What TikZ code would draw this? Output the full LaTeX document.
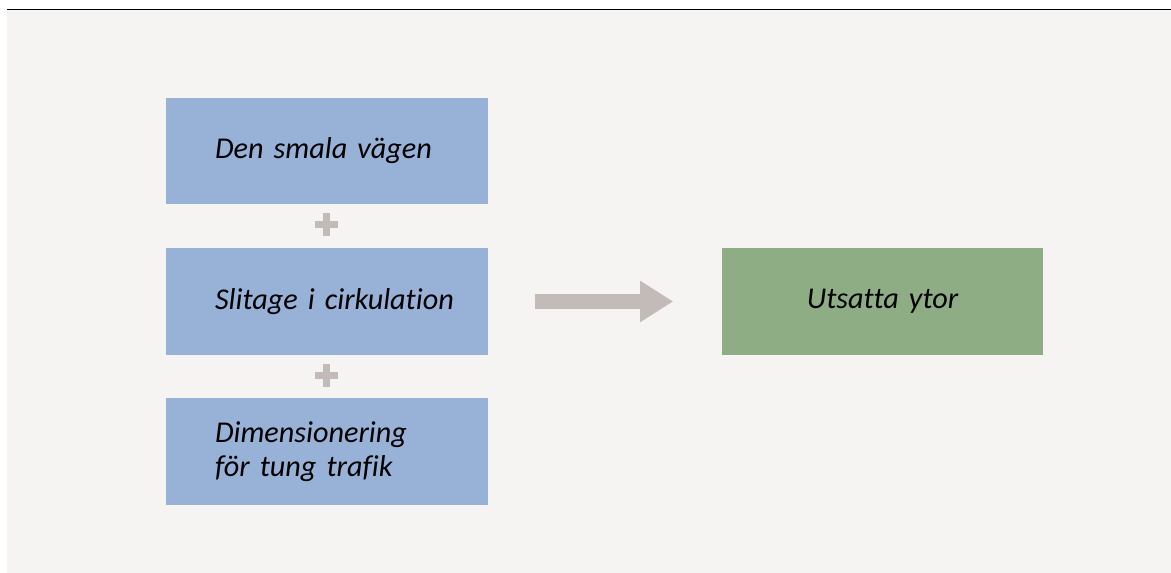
\documentclass[tikz,border=0pt]{standalone}
\usepackage{fontspec}
\setmainfont[Ligatures=NoCommon, WordSpace=0.65]{Carlito}
\definecolor{boxblue}{RGB}{152,177,215}
\definecolor{boxgreen}{RGB}{143,173,133}
\definecolor{signgray}{RGB}{194,187,183}
\definecolor{bggray}{RGB}{245,244,242}
\usetikzlibrary{arrows.meta,positioning}

\begin{document}
\begin{tikzpicture}[
    x=0.02cm, y=-0.02cm,
    cause/.style={rectangle, fill=boxblue, minimum width=6.44cm, minimum height=2.14cm,
                  text width=4.48cm, inner xsep=0.98cm, align=left,
                  execute at begin node={\hyphenpenalty=10000\hfuzz=3cm},
                  font=\itshape\fontsize{17.2}{19.3}\selectfont},
    effect/.style={cause, fill=boxgreen, align=center},
    plus/.style={rectangle, minimum size=0.46cm, inner sep=0pt,
                 path picture={
                   \fill[signgray] ([xshift=-0.07cm]path picture bounding box.north)
                     rectangle ([xshift=0.07cm]path picture bounding box.south);
                   \fill[signgray] ([yshift=-0.07cm]path picture bounding box.west)
                     rectangle ([yshift=0.07cm]path picture bounding box.east);}},
    >=Triangle
  ]
    % Page and rule
    \useasboundingbox[fill=white] (0,0) rectangle (1171,573);
    \fill[bggray] (7,10) rectangle (1171,573);
    \draw[black, line width=0.03cm] (7,9.5) -- (1171,9.5);

    % Causes
    \node[cause] (b1) at (327,151) {Den~smala~vägen};
    \node[cause] (b2) at (327,301.5) {Slitage~i~cirkulation};
    \node[cause] (b3) at (327,451.5) {Dimensionering\\för~tung~trafik};
    \node[plus] (p1) at (326.5,225) {};
    \node[plus] (p2) at (326.5,376) {};

    % Result
    \node[effect] (res) at (882.5,301.5) {Utsatta~ytor};
    \draw[signgray, line width=0.3cm, -{Triangle[length=0.66cm, width=0.78cm]},
          shorten <=0.94cm, shorten >=0.96cm] (b2.east) -- (res.west);
\end{tikzpicture}
\end{document}
